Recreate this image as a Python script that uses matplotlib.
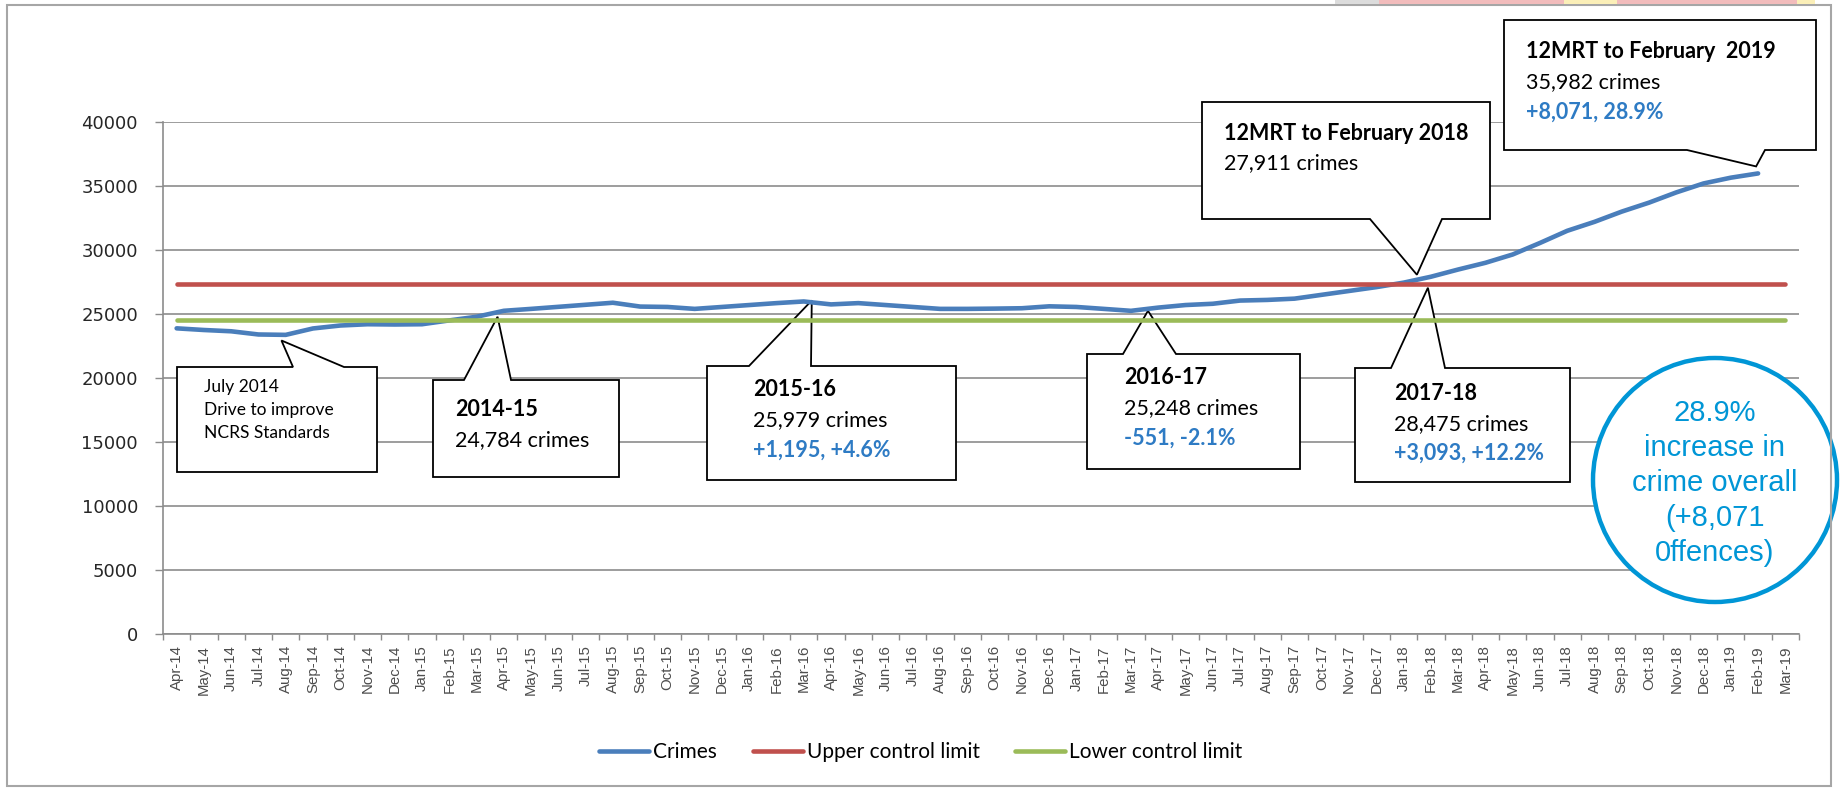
import matplotlib
matplotlib.use('Agg')
import matplotlib.pyplot as plt
from matplotlib.patches import Polygon, Ellipse, Rectangle
import numpy as np

# Output size in pixels (dpi 100)
W, H = 1841, 788

# Months on the category axis
months = ['Apr-14', 'May-14', 'Jun-14', 'Jul-14', 'Aug-14', 'Sep-14', 'Oct-14', 'Nov-14',
          'Dec-14', 'Jan-15', 'Feb-15', 'Mar-15', 'Apr-15', 'May-15', 'Jun-15', 'Jul-15',
          'Aug-15', 'Sep-15', 'Oct-15', 'Nov-15', 'Dec-15', 'Jan-16', 'Feb-16', 'Mar-16',
          'Apr-16', 'May-16', 'Jun-16', 'Jul-16', 'Aug-16', 'Sep-16', 'Oct-16', 'Nov-16',
          'Dec-16', 'Jan-17', 'Feb-17', 'Mar-17', 'Apr-17', 'May-17', 'Jun-17', 'Jul-17',
          'Aug-17', 'Sep-17', 'Oct-17', 'Nov-17', 'Dec-17', 'Jan-18', 'Feb-18', 'Mar-18',
          'Apr-18', 'May-18', 'Jun-18', 'Jul-18', 'Aug-18', 'Sep-18', 'Oct-18', 'Nov-18',
          'Dec-18', 'Jan-19', 'Feb-19', 'Mar-19']

# 12 month rolling total of crimes (Apr-14 .. Feb-19)
crimes = [23880, 23750, 23650, 23400, 23370, 23870, 24100, 24200,
          24180, 24200, 24500, 24784, 25250, 25400, 25560, 25720,
          25880, 25580, 25550, 25400, 25550, 25700, 25850, 25979,
          25750, 25850, 25700, 25550, 25400, 25400, 25420, 25450,
          25600, 25550, 25400, 25248, 25500, 25700, 25800, 26050,
          26100, 26200, 26500, 26800, 27100, 27450, 27911, 28475,
          29000, 29650, 30550, 31500, 32200, 33000, 33700, 34500,
          35200, 35650, 35982]

ucl_value = 27350
lcl_value = 24530
upper_limit = [ucl_value] * len(months)
lower_limit = [lcl_value] * len(months)

y_ticks = [0, 5000, 10000, 15000, 20000, 25000, 30000, 35000, 40000]

blue = '#4a7ebb'
red = '#c0504d'
green = '#9bbb59'
text_blue = '#2e7bc4'
circle_blue = '#0096d6'
grid_grey = '#8c8c8c'


def fig_xy(x, y):
    # pixel position (origin top-left) -> figure fraction
    return x / W, 1 - y / H


fig = plt.figure(figsize=(W / 100, H / 100), dpi=100, facecolor='white')

# plot area
l, t, r, b = 163, 122, 1799, 634
ax = fig.add_axes([l / W, 1 - b / H, (r - l) / W, (b - t) / H])

x = np.arange(len(months))
line_crimes, = ax.plot(x[:len(crimes)], crimes, color=blue, lw=3.3, solid_capstyle='round', zorder=3, label='Crimes')
line_ucl, = ax.plot(x, upper_limit, color=red, lw=3.3, solid_capstyle='round', zorder=3, label='Upper control limit')
line_lcl, = ax.plot(x, lower_limit, color=green, lw=3.3, solid_capstyle='round', zorder=3, label='Lower control limit')

ax.set_xlim(-0.5, len(months) - 0.5)
ax.set_ylim(0, 40000)

# axes styling
for side in ['top', 'right']:
    ax.spines[side].set_visible(False)
for side in ['left', 'bottom']:
    ax.spines[side].set_color(grid_grey)
    ax.spines[side].set_linewidth(1.2)

ax.set_yticks(y_ticks)
ax.set_yticklabels([str(v) for v in y_ticks], fontsize=13, family='DejaVu Sans', color='#262626')
ax.tick_params(axis='y', length=6, width=1, color=grid_grey, pad=12)
ax.grid(axis='y', color=grid_grey, lw=1.2)
ax.set_axisbelow(True)

ax.set_xticks(x)
ax.set_xticklabels(months, rotation=90, fontsize=10.8, family='Liberation Sans', color='#4d4d4d', va='top')
ax.set_xticks(np.arange(-0.5, len(months), 1), minor=True)
ax.tick_params(axis='x', which='major', length=0, pad=8)
ax.tick_params(axis='x', which='minor', length=4, width=1, color=grid_grey)

# callout boxes: box (l, t, r, b), pointer side, pointer base, anchor month, tip offset, text lines
callouts = [
    dict(box=(177, 367, 377, 472), side='top', base=(293, 344), anchor='Jul-14', off=(23, 6),
         x=204, size=12.5, lines=[(387, 'July 2014', 'normal', 'black'),
                                  (410, 'Drive to improve', 'normal', 'black'),
                                  (433, 'NCRS Standards', 'normal', 'black')]),
    dict(box=(433, 380, 619, 477), side='top', base=(464, 511), anchor='Mar-15', off=(21, 0),
         x=455, size=15.5, lines=[(410, '2014-15', 'bold', 'black'),
                                  (440, '24,784 crimes', 'normal', 'black')]),
    dict(box=(707, 366, 956, 480), side='top', base=(749, 811), anchor='Mar-16', off=(8, -1),
         x=753, size=15.5, lines=[(390, '2015-16', 'bold', 'black'),
                                  (420, '25,979 crimes', 'normal', 'black'),
                                  (450, '+1,195, +4.6%', 'bold', text_blue)]),
    dict(box=(1087, 354, 1300, 469), side='top', base=(1123, 1176), anchor='Mar-17', off=(17, 0),
         x=1124, size=15.5, lines=[(378, '2016-17', 'bold', 'black'),
                                   (408, '25,248 crimes', 'normal', 'black'),
                                   (438, '-551, -2.1%', 'bold', text_blue)]),
    dict(box=(1355, 368, 1570, 482), side='top', base=(1391, 1445), anchor='Feb-18', off=(-3, 11),
         x=1394, size=15.5, lines=[(393, '2017-18', 'bold', 'black'),
                                   (424, '28,475 crimes', 'normal', 'black'),
                                   (453, '+3,093, +12.2%', 'bold', text_blue)]),
    dict(box=(1202, 102, 1490, 219), side='bottom', base=(1370, 1442), anchor='Feb-18', off=(-14, -2),
         x=1224, size=15.5, lines=[(133, '12MRT to February 2018', 'bold', 'black'),
                                   (163, '27,911 crimes', 'normal', 'black')]),
    dict(box=(1504, 20, 1816, 150), side='bottom', base=(1687, 1765), anchor='Feb-19', off=(-2, -7),
         x=1526, size=15.5, lines=[(52, '12MRT to February  2019', 'bold', 'black'),
                                   (82, '35,982 crimes', 'normal', 'black'),
                                   (112, '+8,071, 28.9%', 'bold', text_blue)]),
]

for c in callouts:
    bl, bt, br, bb = c['box']
    b1, b2 = c['base']
    i = months.index(c['anchor'])
    px, py = ax.transData.transform((i, crimes[i]))
    tip = (px + c['off'][0], H - py + c['off'][1])
    if c['side'] == 'top':
        pts = [(bl, bt), (b1, bt), tip, (b2, bt), (br, bt), (br, bb), (bl, bb)]
    else:
        pts = [(bl, bt), (br, bt), (br, bb), (b2, bb), tip, (b1, bb), (bl, bb)]
    poly = Polygon([fig_xy(*p) for p in pts], closed=True, facecolor='white', edgecolor='black',
                   lw=1.3, transform=fig.transFigure, clip_on=False, zorder=1.5)
    ax.add_patch(poly)
    for ty, s, weight, col in c['lines']:
        fx, fy = fig_xy(c['x'], ty)
        fig.text(fx, fy, s, family='Lato', fontsize=c['size'], fontweight=weight,
                 color=col, ha='left', va='center', zorder=5)

# summary circle
cx, cy, rad = 1715, 480, 122
circ = Ellipse(fig_xy(cx, cy), 2 * rad / W, 2 * rad / H, facecolor='white', edgecolor=circle_blue,
               lw=3.2, transform=fig.transFigure, clip_on=False, zorder=1.5)
ax.add_patch(circ)
circle_lines = ['28.9%', 'increase in', 'crime overall', '(+8,071', '0ffences)']
for k, s in enumerate(circle_lines):
    fx, fy = fig_xy(cx, 413 + 35 * k)
    fig.text(fx, fy, s, family='Liberation Sans', fontsize=21, color=circle_blue,
             ha='center', va='center', zorder=5)

# legend
fig.legend(handles=[line_crimes, line_ucl, line_lcl], loc='center', bbox_to_anchor=fig_xy(921, 752),
           ncol=3, frameon=False, prop={'family': 'Lato', 'size': 15},
           handlelength=2.4, handletextpad=0.2, columnspacing=1.7)

# outer chart border and a sliver of spreadsheet above it
fig.patches.append(Rectangle(fig_xy(7, 786), (1831 - 7) / W, (786 - 5) / H, fill=False,
                             edgecolor='#a6a6a6', lw=1.5, transform=fig.transFigure))
for x0, x1, col in [(1335, 1379, '#dcdcdc'), (1379, 1564, '#f2bcbc'), (1564, 1617, '#fbefb8'),
                    (1617, 1797, '#f2bcbc'), (1797, 1815, '#fbefb8')]:
    fig.patches.append(Rectangle(fig_xy(x0, 4), (x1 - x0) / W, 4 / H, facecolor=col,
                                 edgecolor='none', transform=fig.transFigure))

plt.savefig('out.png', dpi=100, facecolor='white')
plt.close()
